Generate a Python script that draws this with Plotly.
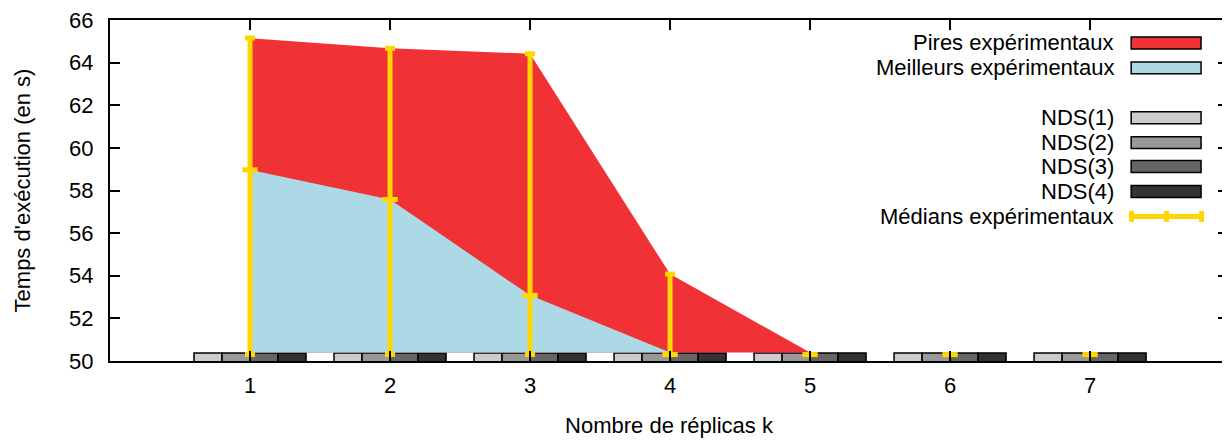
import plotly.graph_objects as go

# ---------------- data ----------------
K = [1, 2, 3, 4, 5, 6, 7]
WORST = [65.15, 64.68, 64.42, 54.08, 50.40, 50.40, 50.40]
BEST = [58.97, 57.58, 53.08, 50.40, 50.40, 50.40, 50.40]
MEDIAN = [58.97, 57.58, 53.08, 50.30, 50.30, 50.30, 50.30]
LOW = [50.30, 50.30, 50.30, 50.30, 50.30, 50.30, 50.30]
HIGH = [65.15, 64.68, 64.42, 54.08, 50.30, 50.30, 50.30]
NDS1 = [50.37, 50.37, 50.37, 50.37, 50.37, 50.37, 50.37]
NDS2 = [50.37, 50.37, 50.37, 50.37, 50.37, 50.37, 50.37]
NDS3 = [50.37, 50.37, 50.37, 50.37, 50.37, 50.37, 50.37]
NDS4 = [50.37, 50.37, 50.37, 50.37, 50.37, 50.37, 50.37]
FILL_BASE = 50.40

X_TICKS = [1, 2, 3, 4, 5, 6, 7]
Y_TICKS = [50, 52, 54, 56, 58, 60, 62, 64, 66]

RED = "#f03236"
BLUE = "#add8e6"
GOLD = "#ffd700"
GREYS = ["#cccccc", "#999999", "#666666", "#333333"]
FONT = "Liberation Sans, Arial, Helvetica, sans-serif"
FS = 22

fig = go.Figure()

# bars
for name, vals, col in zip(["NDS(1)", "NDS(2)", "NDS(3)", "NDS(4)"],
                           [NDS1, NDS2, NDS3, NDS4], GREYS):
    fig.add_trace(go.Bar(x=K, y=vals, name=name, marker=dict(color=col, line=dict(color="black", width=1.5)),
                         showlegend=False, hoverinfo="skip"))

# worst area
fig.add_trace(go.Scatter(x=K, y=[FILL_BASE] * len(K), mode="lines", line=dict(width=0),
                         showlegend=False, hoverinfo="skip"))
fig.add_trace(go.Scatter(x=K, y=WORST, mode="lines", line=dict(width=0, color=RED),
                         fill="tonexty", fillcolor=RED, showlegend=False, name="Pires expérimentaux"))
# best area
fig.add_trace(go.Scatter(x=K, y=[FILL_BASE] * len(K), mode="lines", line=dict(width=0),
                         showlegend=False, hoverinfo="skip"))
fig.add_trace(go.Scatter(x=K, y=BEST, mode="lines", line=dict(width=0, color=BLUE),
                         fill="tonexty", fillcolor=BLUE, showlegend=False, name="Meilleurs expérimentaux"))

# medians with error bars
fig.add_trace(go.Scatter(
    x=K, y=MEDIAN, mode="markers", name="Médians expérimentaux", showlegend=False,
    marker=dict(symbol="line-ew", size=11, line=dict(color=GOLD, width=5), color=GOLD),
    error_y=dict(type="data", symmetric=False,
                 array=[h - m for h, m in zip(HIGH, MEDIAN)],
                 arrayminus=[m - l for m, l in zip(MEDIAN, LOW)],
                 color=GOLD, thickness=5, width=5),
))

# ---------------- layout geometry (page has an 8px body margin) ----------------
OFF = 8
W, H = 1230 - OFF, 441 - OFF
L, R, T = 110 - OFF, 0, 19 - OFF
B = H - (361 - OFF)
PW, PH = W - L - R, H - T - B


def px(x):  # page pixel -> paper
    return (x - OFF - L) / PW


def py(y):
    return (H - B - (y - OFF)) / PH


legend_rows = [
    ("Pires expérimentaux", "box", RED, 42),
    ("Meilleurs expérimentaux", "box", BLUE, 67),
    ("NDS(1)", "box", GREYS[0], 117),
    ("NDS(2)", "box", GREYS[1], 142),
    ("NDS(3)", "box", GREYS[2], 166),
    ("NDS(4)", "box", GREYS[3], 191),
    ("Médians expérimentaux", "err", GOLD, 216),
]
shapes = []
annotations = []
for label, kind, col, yc in legend_rows:
    annotations.append(dict(text=label, x=px(1118), y=py(yc), xref="paper", yref="paper",
                            xanchor="right", yanchor="middle", showarrow=False,
                            font=dict(family=FONT, size=FS, color="black")))
    if kind == "box":
        shapes.append(dict(type="rect", xref="paper", yref="paper",
                           x0=px(1133), x1=px(1203), y0=py(yc + 6), y1=py(yc - 6),
                           fillcolor=col, line=dict(color="black", width=1.5)))
    else:
        shapes.append(dict(type="line", xref="paper", yref="paper",
                           x0=px(1131), x1=px(1206), y0=py(yc), y1=py(yc),
                           line=dict(color=col, width=5)))
        for xc in (1133.5, 1168.5, 1203.5):
            shapes.append(dict(type="line", xref="paper", yref="paper",
                               x0=px(xc), x1=px(xc), y0=py(yc - 5.5), y1=py(yc + 5.5),
                               line=dict(color=col, width=5)))

fig.update_layout(
    width=W, height=H,
    margin=dict(l=L, r=R, t=T, b=B, pad=0),
    paper_bgcolor="white", plot_bgcolor="white",
    barmode="group", bargap=0.2, bargroupgap=0.0,
    font=dict(family=FONT, size=FS, color="black"),
    showlegend=False,
    shapes=shapes, annotations=annotations,
    xaxis=dict(range=[0, 7.985], tickvals=X_TICKS, ticktext=[str(v) for v in X_TICKS],
               ticks="inside", ticklen=10, tickwidth=1.5, tickcolor="black",
               showline=True, linewidth=2, linecolor="black", mirror="ticks",
               showgrid=False, zeroline=False, ticklabelstandoff=4,
               title=dict(text="Nombre de réplicas k", standoff=20,
                          font=dict(family=FONT, size=FS))),
    yaxis=dict(range=[50, 66], tickvals=Y_TICKS, ticktext=[str(v) for v in Y_TICKS],
               ticks="inside", ticklen=10, tickwidth=1.5, tickcolor="black",
               showline=True, linewidth=2, linecolor="black", mirror="ticks",
               showgrid=False, zeroline=False, ticklabelstandoff=10,
               ticklabeloverflow="allow",
               title=dict(text="Temps d'exécution (en s)", standoff=32,
                          font=dict(family=FONT, size=FS))),
)

fig.write_html("out.html")
